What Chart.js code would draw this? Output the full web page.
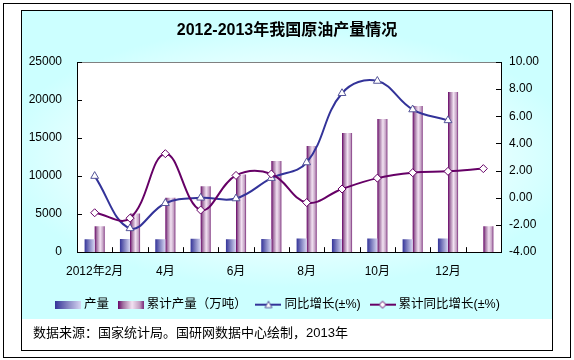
<!DOCTYPE html>
<html><head><meta charset="utf-8">
<script src="https://cdn.jsdelivr.net/npm/chart.js@4.4.0/dist/chart.umd.min.js"></script>
<style>html,body{margin:0;padding:0;background:#fff}canvas{display:block}</style>
</head><body>
<canvas id="c" width="574" height="360"></canvas>
<script>
// ---- data ----
const categories = ['2012年2月','3月','4月','5月','6月','7月','8月','9月','10月','11月','12月','2013年2月'];
const production = [1690, 1740, 1700, 1750, 1700, 1720, 1800, 1720, 1800, 1710, 1810, null];
const cumulative = [3400, 5090, 7150, 8680, 10220, 11970, 13950, 15660, 17500, 19210, 21050, 3400];
const yoyGrowth  = [1.6, -2.25, -0.4, 0.0, -0.05, 1.45, 2.6, 7.7, 8.6, 6.5, 5.7, null];
const cumGrowth  = [-1.1, -1.5, 3.25, -0.9, 1.65, 1.75, -0.35, 0.65, 1.45, 1.85, 1.95, 2.15];
const seriesNames = ['产量', '累计产量（万吨）', '同比增长(±%)', '累计同比增长(±%)'];
const titleText = '2012-2013年我国原油产量情况';
const sourceText = '数据来源：国家统计局。国研网数据中心绘制，2013年';

const FONT = "'Liberation Sans','Noto Sans CJK SC',sans-serif";
Chart.defaults.font.family = FONT;
Chart.defaults.color = '#000';

const CAT_PCT = 0.57;
const LEGEND_SHIFT = 8;

function addStops(g, which) {
  if (which === 0) {
    g.addColorStop(0, '#333399');
    g.addColorStop(0.45, '#7f7fbf');
    g.addColorStop(1, '#d6d6f2');
  } else {
    g.addColorStop(0, '#660066');
    g.addColorStop(0.2, '#a070a0');
    g.addColorStop(0.55, '#f2e2f2');
    g.addColorStop(0.85, '#c09cc0');
    g.addColorStop(1, '#7a2a7a');
  }
  return g;
}

function barFill(which) {
  return function (c) {
    const chart = c.chart, xs = chart.scales && chart.scales.x;
    if (!xs || c.dataIndex === undefined) return which === 0 ? '#7f7fbf' : '#c09cc0';
    const center = xs.getPixelForValue(c.dataIndex);
    const catW = (xs.right - xs.left) / categories.length;
    const bw = catW * CAT_PCT / 2;
    const x0 = which === 0 ? center - bw : center;
    return addStops(chart.ctx.createLinearGradient(x0, 0, x0 + bw, 0), which);
  };
}

function swatchBar(which) {
  const cv = document.createElement('canvas');
  cv.width = 26; cv.height = 8;
  const x = cv.getContext('2d');
  x.fillStyle = addStops(x.createLinearGradient(0, 0, 26, 0), which);
  x.fillRect(0, 0, 26, 8);
  return cv;
}
function swatchLine(color, markerColor, marker) {
  const cv = document.createElement('canvas');
  cv.width = 26; cv.height = 10;
  const x = cv.getContext('2d');
  x.strokeStyle = color; x.lineWidth = 2;
  x.beginPath(); x.moveTo(0, 5); x.lineTo(26, 5); x.stroke();
  x.fillStyle = '#fff'; x.strokeStyle = markerColor; x.lineWidth = 1;
  x.beginPath();
  if (marker === 'tri') { x.moveTo(13, 1.5); x.lineTo(16.5, 8); x.lineTo(9.5, 8); }
  else { x.moveTo(13, 1.5); x.lineTo(16.5, 5); x.lineTo(13, 8.5); x.lineTo(9.5, 5); }
  x.closePath(); x.fill(); x.stroke();
  return cv;
}
const legendIcons = [swatchBar(0), swatchBar(1), swatchLine('#333399', '#555599', 'tri'), swatchLine('#660066', '#660066', 'dia')];

const framePlugin = {
  id: 'frame',
  afterLayout(chart) {
    if (chart.legend) { chart.legend.left -= LEGEND_SHIFT; chart.legend.right -= LEGEND_SHIFT; }
    chart.boxes.forEach(b => {
      if (b.options && b.options.text === sourceText) { b.left = 33; }
    });
  },
  beforeDraw(chart) {
    const ctx = chart.ctx, a = chart.chartArea;
    ctx.save();
    ctx.fillStyle = '#fff';
    ctx.fillRect(0, 0, chart.width, chart.height);
    ctx.save();
    ctx.beginPath(); ctx.rect(21, 10, 532, 340); ctx.clip();
    ctx.translate(289, 157); ctx.scale(1, 0.45);
    const g = ctx.createRadialGradient(0, 0, 0, 0, 0, 290);
    g.addColorStop(0, '#ffffff'); g.addColorStop(0.55, '#f2ffff'); g.addColorStop(1, '#ccffff');
    ctx.fillStyle = g;
    ctx.fillRect(-300, -360, 600, 720);
    ctx.restore();
    ctx.strokeStyle = '#000'; ctx.lineWidth = 1;
    ctx.strokeRect(21.5, 10.5, 531, 340);
    ctx.strokeRect(3.5, 3.5, 567, 354);
    ctx.fillStyle = '#fff';
    ctx.fillRect(a.left, a.top, a.right - a.left, a.bottom - a.top);
    ctx.restore();
  },
  afterDatasetsDraw(chart) {
    const ctx = chart.ctx, a = chart.chartArea;
    const xs = chart.scales.x, ys = chart.scales.y, y2 = chart.scales.y2;
    ctx.save();
    ctx.strokeStyle = '#808080'; ctx.lineWidth = 1;
    ctx.beginPath(); ctx.moveTo(a.left, Math.round(a.top) + 0.5); ctx.lineTo(a.right, Math.round(a.top) + 0.5); ctx.stroke();
    ctx.strokeStyle = '#000';
    ctx.beginPath();
    for (let i = 1; i < categories.length; i++) {
      const xb = Math.round((xs.getPixelForValue(i - 1) + xs.getPixelForValue(i)) / 2) + 0.5;
      ctx.moveTo(xb, a.bottom); ctx.lineTo(xb, a.bottom - 5);
    }
    ys.ticks.forEach(t => {
      const yy = Math.round(ys.getPixelForValue(t.value)) + 0.5;
      ctx.moveTo(a.left, yy); ctx.lineTo(a.left + 5, yy);
    });
    y2.ticks.forEach(t => {
      const yy = Math.round(y2.getPixelForValue(t.value)) + 0.5;
      ctx.moveTo(a.right, yy); ctx.lineTo(a.right - 5, yy);
    });
    ctx.stroke();
    ctx.restore();
  }
};

new Chart(document.getElementById('c'), {
  data: {
    labels: categories,
    datasets: [
      { type: 'bar', label: seriesNames[0], data: production, yAxisID: 'y', backgroundColor: barFill(0), borderWidth: 0, order: 2, categoryPercentage: CAT_PCT, barPercentage: 1.0 },
      { type: 'bar', label: seriesNames[1], data: cumulative, yAxisID: 'y', backgroundColor: barFill(1), borderWidth: 0, order: 3, categoryPercentage: CAT_PCT, barPercentage: 1.0 },
      { type: 'line', label: seriesNames[2], data: yoyGrowth, yAxisID: 'y2', borderColor: '#333399', borderWidth: 2, tension: 0.4, fill: false,
        pointStyle: 'triangle', pointRadius: 4.5, pointBackgroundColor: '#fff', pointBorderColor: '#555599', pointBorderWidth: 1, order: 1 },
      { type: 'line', label: seriesNames[3], data: cumGrowth, yAxisID: 'y2', borderColor: '#660066', borderWidth: 2, tension: 0.4, fill: false,
        pointStyle: 'rectRot', pointRadius: 4, pointBackgroundColor: '#fff', pointBorderColor: '#660066', pointBorderWidth: 1, order: 0 }
    ]
  },
  options: {
    responsive: false,
    animation: false,
    events: [],
    layout: { padding: { left: 21, right: 21, top: 10, bottom: 10 } },
    scales: {
      x: {
        type: 'category', offset: true, z: 1,
        grid: { display: false, drawTicks: false },
        border: { display: true, color: '#000', width: 1 },
        ticks: { autoSkip: false, maxRotation: 0, minRotation: 0, padding: 12, font: { size: 12 }, color: '#000',
          callback: (v, i) => (i % 2 === 0 ? categories[i] : '') },
        afterFit: s => { s.height = 34.25; }
      },
      y: {
        position: 'left', min: 0, max: 25000,
        grid: { display: false, drawTicks: false },
        border: { display: true, color: '#000', width: 1 },
        ticks: { stepSize: 5000, padding: 15, font: { size: 12 }, color: '#000', callback: v => String(v) },
        afterFit: s => { s.width = 56; }
      },
      y2: {
        position: 'right', min: -4, max: 10,
        grid: { display: false, drawTicks: false },
        border: { display: true, color: '#000', width: 1 },
        ticks: { stepSize: 2, padding: 8, font: { size: 12 }, color: '#000', callback: v => Number(v).toFixed(2) },
        afterFit: s => { s.width = 52; }
      }
    },
    plugins: {
      tooltip: { enabled: false },
      title: { display: true, text: titleText, color: '#000', font: { size: 16, weight: 'bold' }, padding: { top: 11.4, bottom: 21.4 } },
      subtitle: { display: true, position: 'bottom', align: 'start', text: sourceText, color: '#000', font: { size: 13 }, padding: { top: 4.8, bottom: 8.7 } },
      legend: {
        position: 'bottom',
        labels: {
          usePointStyle: true, pointStyleWidth: 19.5, padding: 12, color: '#000', font: { size: 12.5 },
          generateLabels: () => seriesNames.map((t, i) => ({ text: t, pointStyle: legendIcons[i], datasetIndex: i, hidden: false,
            fillStyle: 'rgba(0,0,0,0)', strokeStyle: 'rgba(0,0,0,0)', lineWidth: 0, fontColor: '#000' }))
        }
      }
    }
  },
  plugins: [framePlugin]
});
</script>
</body></html>
